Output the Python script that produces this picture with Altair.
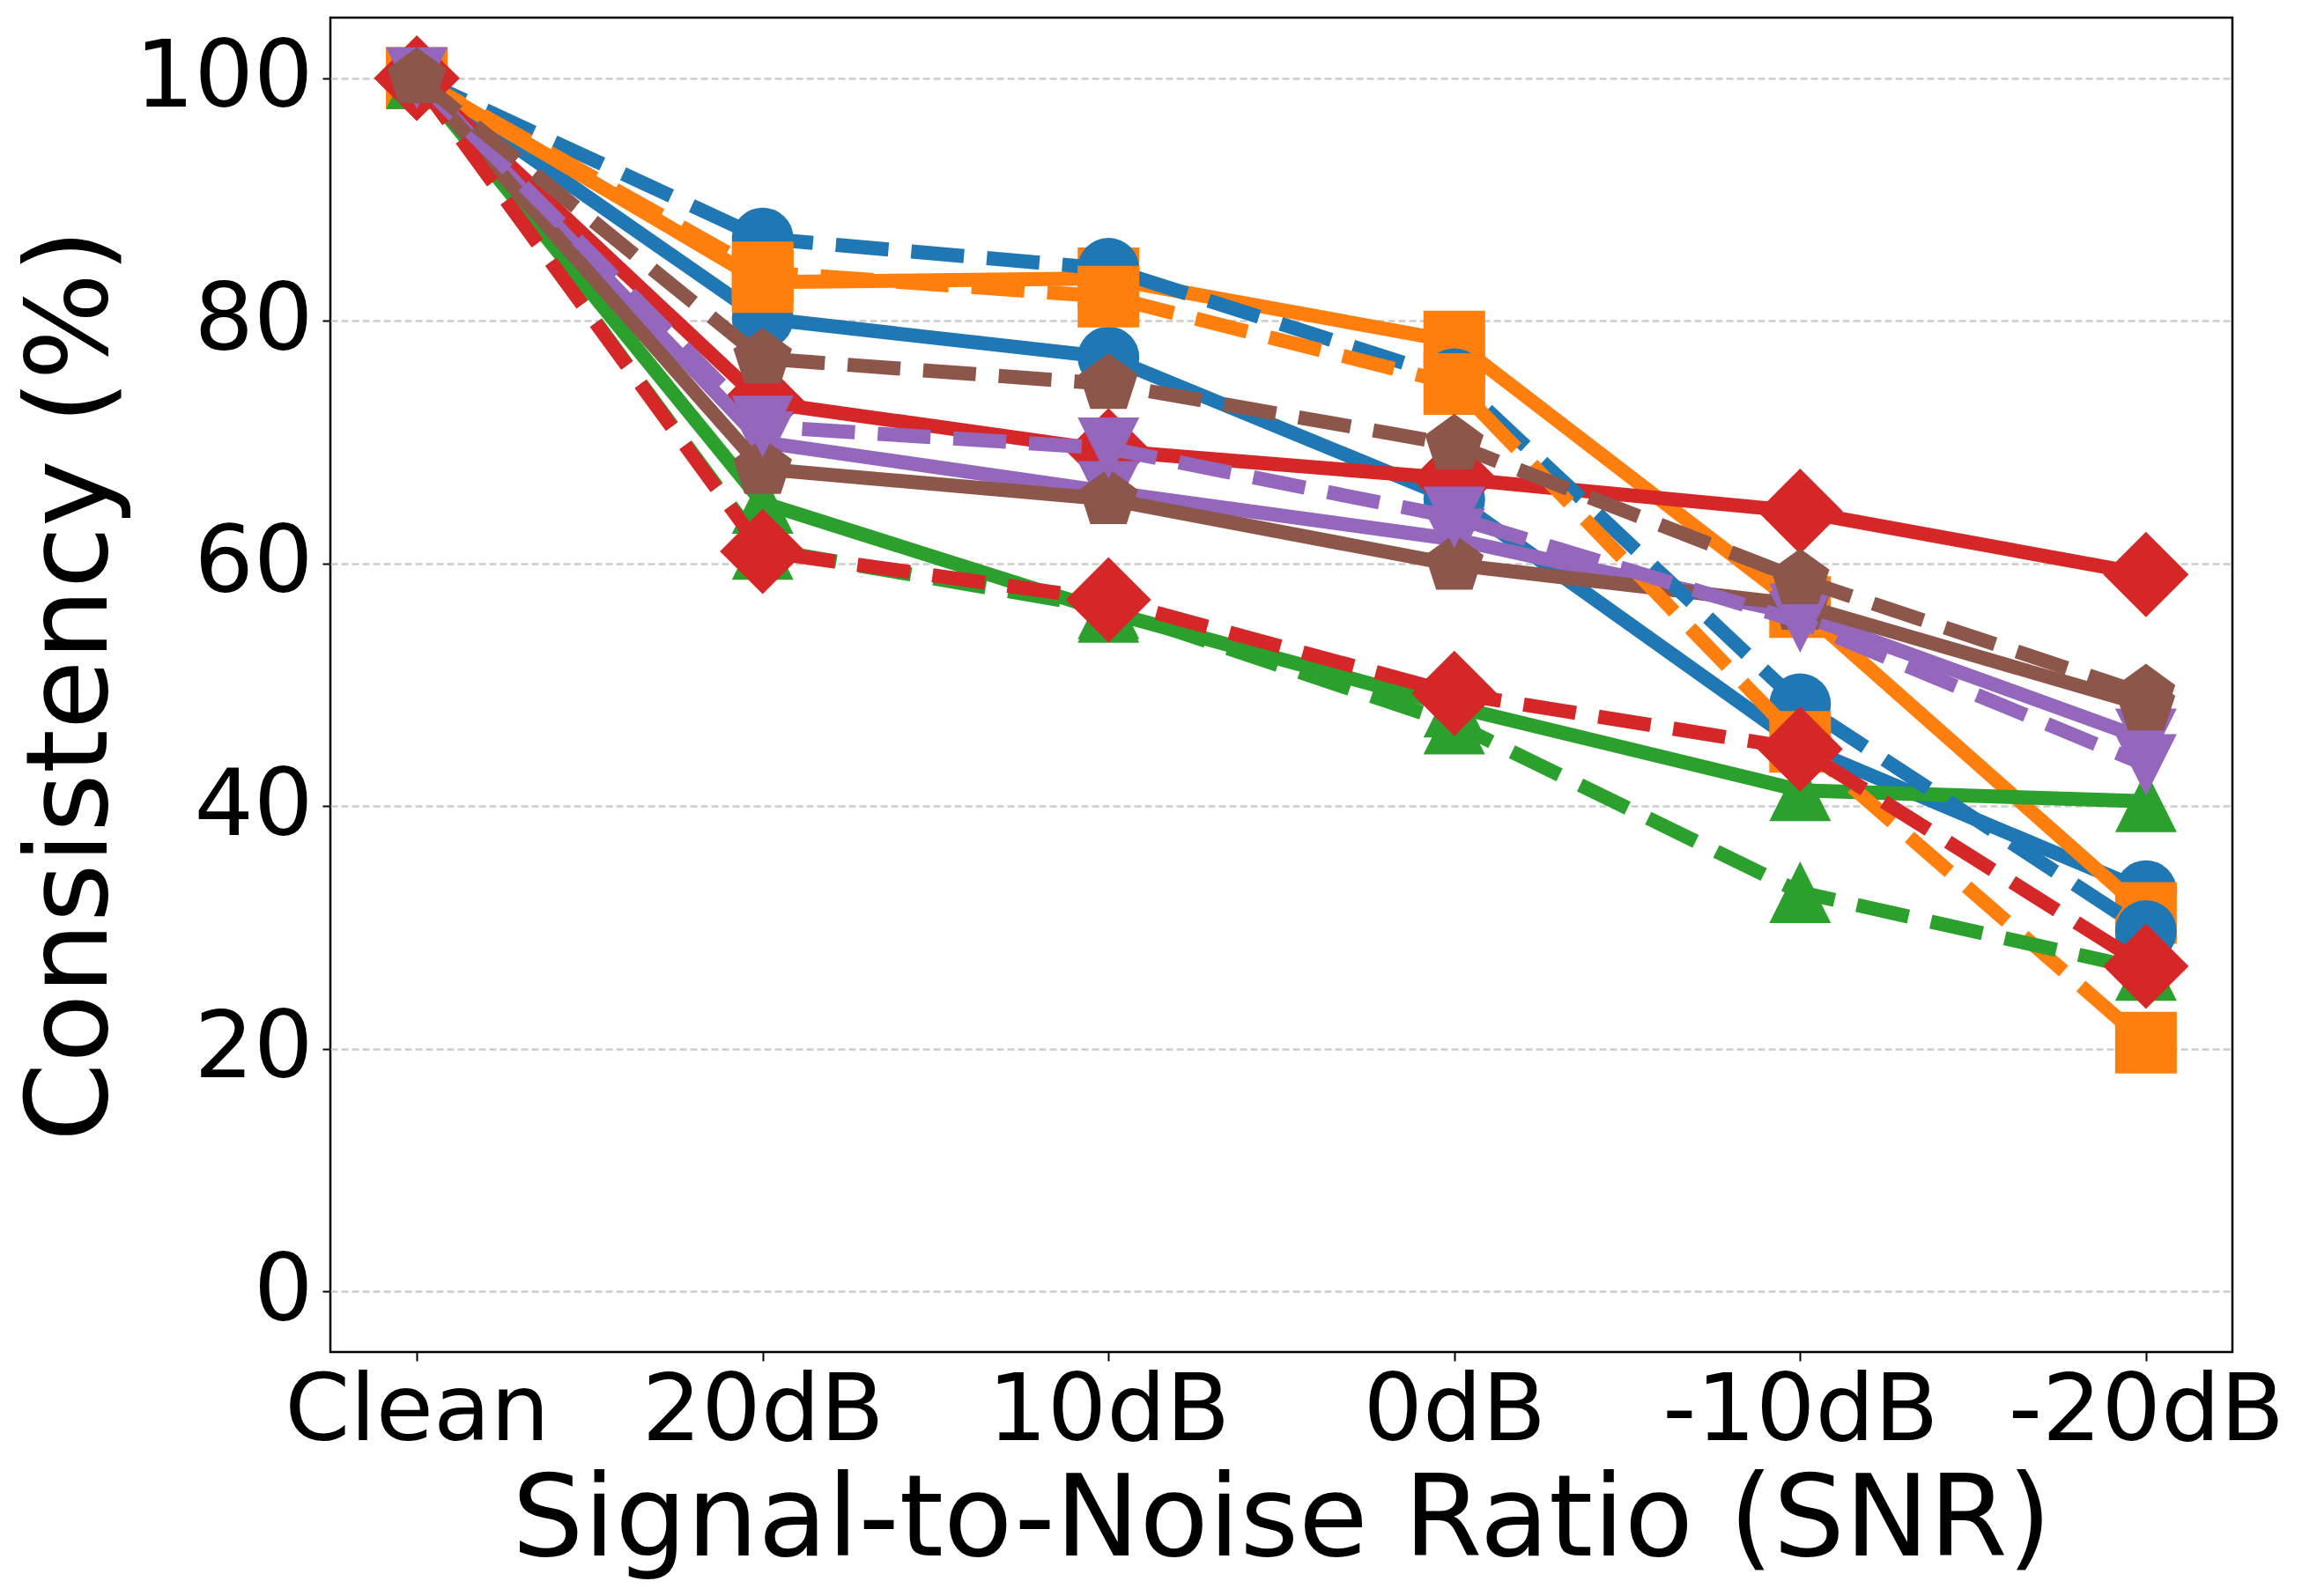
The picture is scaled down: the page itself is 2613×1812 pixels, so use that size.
import altair as alt
import pandas as pd

snr_labels = ["Clean", "20dB", "10dB", "0dB", "-10dB", "-20dB"]
y_ticks = [0, 20, 40, 60, 80, 100]

# solid-line series
blue_solid = [100, 80.2, 77.0, 65.3, 45.0, 33.0]
orange_solid = [100, 83.2, 83.5, 78.3, 56.4, 31.2]
green_solid = [100, 65.0, 56.0, 48.2, 41.3, 40.4]
red_solid = [100, 73.3, 69.3, 67.0, 64.3, 59.1]
purple_solid = [100, 70.0, 65.9, 62.0, 55.8, 45.5]
brown_solid = [100, 67.8, 65.3, 59.9, 56.6, 48.3]

# dashed-line series
blue_dashed = [100, 86.8, 84.3, 75.2, 48.4, 29.7]
orange_dashed = [100, 84.0, 82.0, 74.8, 45.3, 20.5]
green_dashed = [100, 61.2, 56.3, 46.8, 32.9, 26.5]
red_dashed = [100, 61.0, 57.0, 49.3, 44.7, 26.8]
purple_dashed = [100, 71.3, 69.5, 63.8, 55.2, 43.4]
brown_dashed = [100, 76.9, 74.8, 69.8, 58.7, 49.2]

colors = {
    "blue": "#1f77b4", "orange": "#ff7f0e", "green": "#2ca02c",
    "red": "#d62728", "purple": "#9467bd", "brown": "#8c564b",
}
shapes = {
    "blue": ("circle", 4900),
    "orange": ("square", 4900),
    "green": ("M0,-1L1,1L-1,1Z", 4900),
    "red": ("M0,-1L1,0L0,1L-1,0Z", 9409),
    "purple": ("M0,1L1,-1L-1,-1Z", 4900),
    "brown": ("M0,-1L0.951,-0.309L0.588,0.809L-0.588,0.809L-0.951,-0.309Z", 4900),
}

series = [
    ("blue", False, blue_solid), ("orange", False, orange_solid),
    ("green", False, green_solid), ("red", False, red_solid),
    ("purple", False, purple_solid), ("brown", False, brown_solid),
    ("blue", True, blue_dashed), ("orange", True, orange_dashed),
    ("green", True, green_dashed), ("red", True, red_dashed),
    ("purple", True, purple_dashed), ("brown", True, brown_dashed),
]

FONT = "DejaVu Sans"

x_enc = alt.X(
    "snr:N", sort=snr_labels,
    scale=alt.Scale(type="point", padding=0.25),
    axis=alt.Axis(
        title="Signal-to-Noise Ratio (SNR)", labelAngle=0, grid=False,
        domain=False, ticks=True, tickSize=10, tickWidth=2, tickColor="black",
        labelFont=FONT, labelFontSize=106, labelColor="black", labelPadding=5,
        labelLimit=2000, labelOverlap=False,
        titleFont=FONT, titleFontSize=128, titleFontWeight="normal",
        titleColor="black", titleBaseline="alphabetic", titleY=230,
        titleLimit=5000,
    ),
)
y_enc = alt.Y(
    "value:Q",
    scale=alt.Scale(domain=[-5, 105], nice=False, zero=False),
    axis=alt.Axis(
        title="Consistency (%)", values=y_ticks, grid=True,
        gridColor="#cccccc", gridDash=[8, 4], gridWidth=2.5,
        domain=False, ticks=True, tickSize=9, tickWidth=2, tickColor="black",
        labelFont=FONT, labelFontSize=106, labelColor="black", labelPadding=11,
        labelLimit=2000,
        titleFont=FONT, titleFontSize=128, titleFontWeight="normal",
        titleColor="black", titleBaseline="alphabetic", titleX=-255,
        titleAngle=-90, titleLimit=5000,
    ),
)

layers = []
for cname, dashed, vals in series:
    df = pd.DataFrame({"snr": snr_labels, "value": vals})
    base = alt.Chart(df)
    if dashed:
        line = base.mark_line(color=colors[cname], strokeWidth=16,
                              strokeDash=[60, 26], strokeJoin="round")
    else:
        line = base.mark_line(color=colors[cname], strokeWidth=16,
                              strokeJoin="round")
    shape, size = shapes[cname]
    pts = base.mark_point(filled=True, shape=shape, size=size,
                          color=colors[cname], opacity=1, strokeWidth=0)
    layers.append(line.encode(x=x_enc, y=y_enc))
    layers.append(pts.encode(x=x_enc, y=y_enc))

chart = alt.layer(*layers).properties(
    width=2159, height=1515,
    autosize=alt.AutoSizeParams(type="none"),
    padding={"left": 367, "top": 12, "right": 71, "bottom": 269},
).configure_view(
    stroke="black", strokeWidth=2.5
)

chart.save("out.html", embed_options={"renderer": "svg", "actions": False})
